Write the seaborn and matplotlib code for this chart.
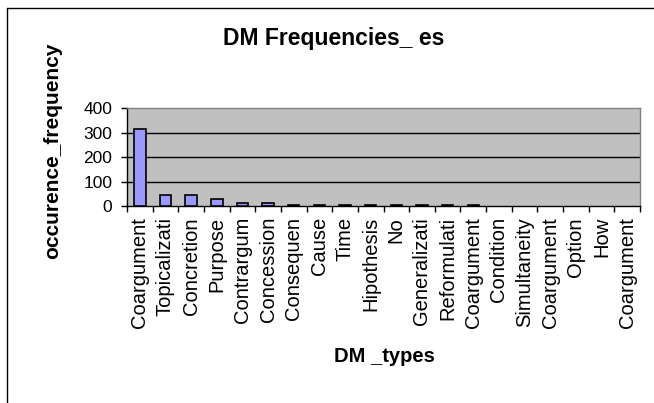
import matplotlib
matplotlib.use("Agg")
import matplotlib.pyplot as plt
import seaborn as sns
import pandas as pd
from matplotlib.lines import Line2D

categories = ["Coargument", "Topicalizati", "Concretion", "Purpose", "Contrargum",
              "Concession", "Consequen", "Cause", "Time", "Hipothesis", "No",
              "Generalizati", "Reformulati", "Coargument", "Condition", "Simultaneity",
              "Coargument", "Option", "How", "Coargument"]
values = [316, 46, 46, 30, 14, 14, 6, 6, 6, 6, 6, 6, 6, 6, 0, 0, 0, 0, 0, 0]
yticks = [0, 100, 200, 300, 400]

sns.set_theme(style="white")
plt.rcParams['font.family'] = ['Liberation Sans', 'DejaVu Sans']

df = pd.DataFrame({"idx": list(range(len(categories))), "val": values})

fig = plt.figure(figsize=(6.54, 4.03), dpi=100)
ax = fig.add_axes([127/654, 1 - 206/403, (640-127)/654, (206-108.3)/403])
ax.set_facecolor("#C0C0C0")

sns.barplot(data=df, x="idx", y="val", ax=ax, color="#9999FF", saturation=1,
            width=0.45, edgecolor="black", linewidth=1.2, zorder=3)
for patch in ax.patches:
    if patch.get_height() == 0:
        patch.set_visible(False)

ax.set_ylim(0, 400)
ax.set_xlim(-0.5, len(categories) - 0.5)
ax.set_yticks(yticks)
ax.set_yticklabels([str(v) for v in yticks], fontsize=12.5)
ax.set_xticks(range(len(categories)))
ax.set_xticklabels(categories, rotation=90, fontsize=14.5)
ax.set_xticks([i - 0.5 for i in range(len(categories) + 1)], minor=True)
ax.tick_params(axis="x", which="major", length=0, pad=8, colors="black")
ax.tick_params(axis="x", which="minor", length=4.5, width=1, color="black", direction="out", bottom=True)
ax.tick_params(axis="y", which="major", length=4.5, width=1, color="black", direction="out", pad=6, left=True)
for lbl in ax.get_xticklabels() + ax.get_yticklabels():
    lbl.set_color("black")

for v in yticks[1:-1]:
    ax.axhline(v, color="black", linewidth=1, zorder=1)

for side in ["top", "right"]:
    ax.spines[side].set_color("#808080")
    ax.spines[side].set_linewidth(1)
    ax.spines[side].set_visible(True)
for side in ["left", "bottom"]:
    ax.spines[side].set_color("black")
    ax.spines[side].set_linewidth(1)
    ax.spines[side].set_visible(True)
ax.set_xlabel("")
ax.set_ylabel("")

fig.text(334/654, 1 - 38/403, "DM Frequencies_ es", ha="center", va="center",
         fontsize=16.5, fontweight="bold", color="black")
fig.text(53/654, 1 - 151/403, "occurence_frequency", ha="center", va="center",
         rotation=90, fontsize=15, fontweight="bold", color="black")
fig.text(384/654, 1 - 357/403, "DM _types", ha="center", va="center",
         fontsize=14.5, fontweight="bold", color="black")

# outer chart frame (left and top edges)
fig.add_artist(Line2D([7/654, 7/654], [0, 1 - 8/403], transform=fig.transFigure, color="black", linewidth=1))
fig.add_artist(Line2D([7/654, 1], [1 - 8/403, 1 - 8/403], transform=fig.transFigure, color="black", linewidth=1))

fig.savefig("out.png", dpi=100, facecolor="white")
